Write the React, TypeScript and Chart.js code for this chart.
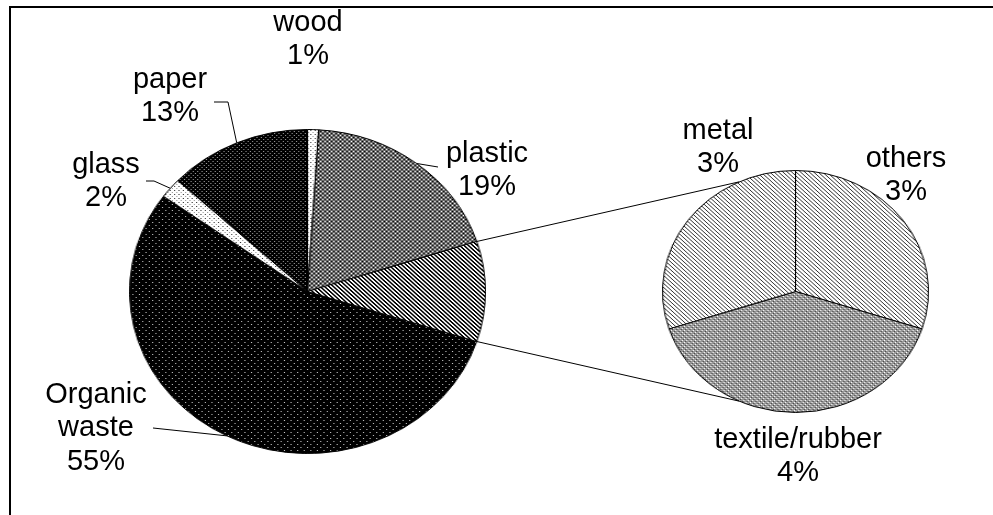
import React, { useEffect, useRef } from "react";
import { Chart, registerables } from "chart.js";

Chart.register(...registerables);

// ---------- data ----------
const mainCategories = ["Organic waste", "glass", "paper", "wood", "plastic", "other"];
const mainValues = [55, 2, 13, 1, 19, 10];
const subCategories = ["others", "textile/rubber", "metal"];
const subValues = [3, 4, 3];

// ---------- layout / style ----------
const W = 993;
const H = 515;
const SX = 1.1; // horizontal stretch of the pies
const FONT_PX = 29;
const LINE_H = 33.3;
const FONT = `${FONT_PX}px "Liberation Sans", Arial, sans-serif`;

const MAIN_R = 162;
const SUB_R = 121;
const MAIN_CX = 307.5;
const MAIN_CY = 291.5;
const SUB_CX = 795.5;
const SUB_CY = 291.5;

const MAIN_SIZE = MAIN_R * 2 + 1;
const SUB_SIZE = SUB_R * 2 + 1;
const MAIN_LEFT = MAIN_CX - (MAIN_SIZE / 2) * SX;
const MAIN_TOP = MAIN_CY - MAIN_SIZE / 2;
const SUB_LEFT = SUB_CX - (SUB_SIZE / 2) * SX;
const SUB_TOP = SUB_CY - SUB_SIZE / 2;

// label anchor (center x, baseline of first line) for each category, in page pixels
const mainLabelPos: ([number, number] | null)[] = [
  [96, 403],
  [106, 173],
  [170, 88],
  [308, 31],
  [487, 161.7],
  null,
];
const subLabelPos: [number, number][] = [
  [906, 167],
  [798, 448],
  [718, 139],
];
// leader line points after the slice edge point
const mainLeaders: [number, number][][] = [
  [[153, 428]],
  [[154, 181], [146, 181]],
  [[228, 102], [214, 102]],
  [],
  [[438, 167]],
  [],
];
const SUB_LINK_ANGLES = [-115, 115]; // degrees, where connectors touch the secondary pie

type Tile = { size: number; bg: string; px: (x: number, y: number) => string | null };

const mainTiles: Tile[] = [
  { size: 6, bg: "#000", px: (x, y) => ((x === 0 && y === 0) || (x === 3 && y === 3) ? "#c4c4c4" : null) },
  { size: 4, bg: "#fff", px: (x, y) => (x === 1 && y === 1 ? "#333" : x === 3 && y === 3 ? "#999" : null) },
  { size: 4, bg: "#000", px: (x, y) => ((x === 0 && y === 0) || (x === 2 && y === 2) ? "#9a9a9a" : null) },
  { size: 4, bg: "#fff", px: (x, y) => (x === 1 && y === 1 ? "#333" : x === 3 && y === 3 ? "#999" : null) },
  {
    size: 4,
    bg: "#6a6a6a",
    px: (x, y) =>
      (x === 0 && y === 0) || (x === 2 && y === 2) ? "#000" : (x === 0 && y === 2) || (x === 2 && y === 0) ? "#fff" : null,
  },
  { size: 4, bg: "#fff", px: (x, y) => (((x - y + 8) % 4) < 2 ? "#000" : null) },
];
const subTiles: Tile[] = [
  { size: 4, bg: "#fff", px: (x, y) => (((x - y + 8) % 4) === 0 ? "#333" : null) },
  {
    size: 4,
    bg: "#999",
    px: (x, y) =>
      (x === 0 && y === 0) || (x === 2 && y === 2) ? "#fff" : (x === 1 && y === 3) || (x === 3 && y === 1) ? "#444" : null,
  },
  { size: 4, bg: "#fff", px: (x, y) => (((x - y + 8) % 4) === 0 ? "#333" : null) },
];

function makePattern(ctx: CanvasRenderingContext2D, t: Tile): CanvasPattern {
  const c = document.createElement("canvas");
  c.width = t.size;
  c.height = t.size;
  const g = c.getContext("2d")!;
  g.fillStyle = t.bg;
  g.fillRect(0, 0, t.size, t.size);
  for (let y = 0; y < t.size; y++) {
    for (let x = 0; x < t.size; x++) {
      const col = t.px(x, y);
      if (col) {
        g.fillStyle = col;
        g.fillRect(x, y, 1, 1);
      }
    }
  }
  return ctx.createPattern(c, "repeat")!;
}

function pct(v: number) {
  const total = mainValues.reduce((a, b) => a + b, 0);
  return `${Math.round((v / total) * 100)}%`;
}

function pieOptions(rotation: number) {
  return {
    animation: false as const,
    responsive: false,
    rotation,
    events: [] as any[],
    layout: { padding: 0 },
    plugins: { legend: { display: false }, tooltip: { enabled: false } },
  };
}

function drawOverlay(oc: HTMLCanvasElement, main: Chart, sub: Chart) {
  const ctx = oc.getContext("2d")!;
  ctx.clearRect(0, 0, W, H);
  const mArcs = main.getDatasetMeta(0).data as any[];
  const sArcs = sub.getDatasetMeta(0).data as any[];
  const mapM = (x: number, y: number): [number, number] => [MAIN_LEFT + x * SX, MAIN_TOP + y];
  const mapS = (x: number, y: number): [number, number] => [SUB_LEFT + x * SX, SUB_TOP + y];
  const edge = (a: any, ang: number, map: typeof mapM) =>
    map(a.x + a.outerRadius * Math.cos(ang), a.y + a.outerRadius * Math.sin(ang));

  ctx.strokeStyle = "#000";
  ctx.lineWidth = 1;

  // connector lines between the combined slice and the secondary pie
  const other = mArcs[mArcs.length - 1];
  const s0 = sArcs[0];
  const ends = [other.startAngle, other.endAngle];
  ends.forEach((ang, i) => {
    const p = edge(other, ang, mapM);
    const q = edge(s0, (SUB_LINK_ANGLES[i] * Math.PI) / 180, mapS);
    ctx.beginPath();
    ctx.moveTo(p[0], p[1]);
    ctx.lineTo(q[0], q[1]);
    ctx.stroke();
  });

  // leader lines
  mArcs.forEach((a, i) => {
    const pts = mainLeaders[i];
    if (!pts || pts.length === 0) return;
    const mid = (a.startAngle + a.endAngle) / 2;
    const p = edge(a, mid, mapM);
    ctx.beginPath();
    ctx.moveTo(p[0], p[1]);
    pts.forEach((q) => ctx.lineTo(q[0], q[1]));
    ctx.stroke();
  });

  // labels
  ctx.font = FONT;
  ctx.fillStyle = "#000";
  ctx.textAlign = "center";
  ctx.textBaseline = "alphabetic";
  const drawLabel = (name: string, v: number, pos: [number, number] | null) => {
    if (!pos) return;
    const lines = [...name.split(" "), pct(v)];
    lines.forEach((t, k) => ctx.fillText(t, pos[0], pos[1] + k * LINE_H));
  };
  mainCategories.forEach((c, i) => drawLabel(c, mainValues[i], mainLabelPos[i]));
  subCategories.forEach((c, i) => drawLabel(c, subValues[i], subLabelPos[i]));
}

export default function App() {
  const mainRef = useRef<HTMLCanvasElement>(null);
  const subRef = useRef<HTMLCanvasElement>(null);
  const overRef = useRef<HTMLCanvasElement>(null);

  useEffect(() => {
    const mc = mainRef.current!;
    const sc = subRef.current!;
    const oc = overRef.current!;
    const mctx = mc.getContext("2d")!;
    const sctx = sc.getContext("2d")!;
    const main = new Chart(mc, {
      type: "pie",
      data: {
        labels: mainCategories,
        datasets: [
          {
            data: mainValues,
            backgroundColor: mainTiles.map((t) => makePattern(mctx, t)),
            borderColor: "#000",
            borderWidth: 1,
          },
        ],
      },
      options: pieOptions(108) as any,
    });
    const sub = new Chart(sc, {
      type: "pie",
      data: {
        labels: subCategories,
        datasets: [
          {
            data: subValues,
            backgroundColor: subTiles.map((t) => makePattern(sctx, t)),
            borderColor: "#000",
            borderWidth: 1,
          },
        ],
      },
      options: pieOptions(0) as any,
    });
    drawOverlay(oc, main, sub);
    return () => {
      main.destroy();
      sub.destroy();
    };
  }, []);

  return (
    <div
      style={{
        position: "absolute",
        left: 0,
        top: 0,
        width: W,
        height: H,
        overflow: "hidden",
        background: "#fff",
      }}
    >
      <div
        style={{
          position: "absolute",
          left: 9,
          top: 6,
          width: W + 50,
          height: H + 50,
          borderLeft: "2px solid #000",
          borderTop: "2px solid #000",
        }}
      />
      <canvas
        ref={mainRef}
        width={MAIN_SIZE}
        height={MAIN_SIZE}
        style={{
          position: "absolute",
          left: MAIN_LEFT,
          top: MAIN_TOP,
          width: MAIN_SIZE * SX,
          height: MAIN_SIZE,
        }}
      />
      <canvas
        ref={subRef}
        width={SUB_SIZE}
        height={SUB_SIZE}
        style={{
          position: "absolute",
          left: SUB_LEFT,
          top: SUB_TOP,
          width: SUB_SIZE * SX,
          height: SUB_SIZE,
        }}
      />
      <canvas
        ref={overRef}
        width={W}
        height={H}
        style={{ position: "absolute", left: 0, top: 0, width: W, height: H }}
      />
    </div>
  );
}
